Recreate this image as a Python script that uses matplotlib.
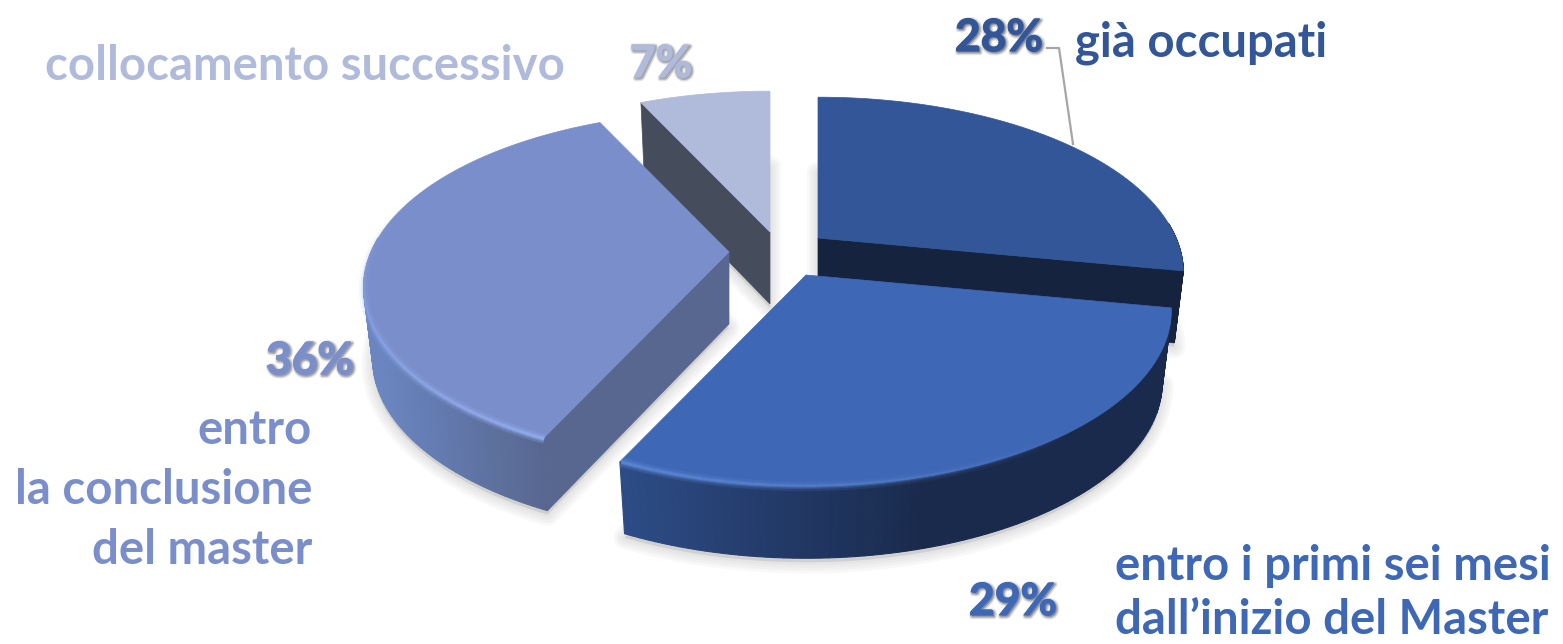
import numpy as np
import matplotlib
matplotlib.use("Agg")
import matplotlib.pyplot as plt
import matplotlib.patheffects as pe
from matplotlib.collections import LineCollection
from matplotlib.colors import to_rgb
from matplotlib.patches import Polygon

# data
categories = ["già occupati", "entro i primi sei mesi\ndall’inizio del Master",
              "entro\nla conclusione\ndel master", "collocamento successivo"]
values = [28, 29, 36, 7]

top_colors = ["#325698", "#3e67b5", "#7a8ecb", "#b0bbdc"]
side_colors = ["#15233f", "#15233f", "#57678f", "#454c5c"]
wall_left = ["#15233f", "#2d4c86", "#6a85c0", "#454c5c"]
wall_right = ["#15233f", "#192a4c", "#57678f", "#454c5c"]

# apex of every exploded slice, in pixels
centers = [(818, 238), (806, 275), (729, 252), (770, 232)]
A, B, K = 358, 169, 0.2   # radii and perspective of the top face
DEPTH = 72
SHRINK = 0.975

edges = 360 * np.cumsum([0] + values) / sum(values)


def rim(i, t, down=0.0):
    # point on the outer rim, t in degrees clockwise from the top
    r = np.radians(t)
    u, v = np.sin(r), -np.cos(r)
    w = 1 - K * v
    scale = SHRINK if down else 1
    return centers[i][0] + scale * A * u / w, centers[i][1] + B * v / w + down


def sector(i, down=0.0):
    ts = np.linspace(edges[i], edges[i + 1], 120)
    x, y = rim(i, ts, down)
    cx, cy = centers[i]
    return np.column_stack([np.r_[cx, x], np.r_[cy + down, y]])


fig = plt.figure(figsize=(15.63, 6.44), dpi=100)
ax = fig.add_axes([0, 0, 1, 1])
ax.set_xlim(0, 1563)
ax.set_ylim(644, 0)
ax.axis("off")

# soft shadow under the pie
for i in range(4):
    for lw in [16, 12, 8, 4]:
        ax.add_patch(Polygon(sector(i, DEPTH + 4), closed=True, fc="#808080", ec="#808080",
                             lw=lw, alpha=0.05, joinstyle="round", zorder=1))

# back to front
order = [3, 0, 2, 1]
for n, i in enumerate(order):
    z = 2 + n * 3
    cx, cy = centers[i]

    # cut face
    cut = edges[i] if i != 0 else edges[1]
    rx, ry = rim(i, cut)
    bx, by = rim(i, cut, DEPTH)
    if i != 1:
        ax.add_patch(Polygon([(cx, cy), (rx, ry), (bx, by), (cx, cy + DEPTH)], closed=True,
                             fc=side_colors[i], ec=side_colors[i], lw=0.5, zorder=z))

    # outer wall, as a shaded strip
    t0, t1 = max(edges[i], 85), min(edges[i + 1], 275)
    if t1 > t0:
        ts = np.linspace(t0, t1, 90)
        for a, b in zip(ts[:-1], ts[1:]):
            f = (rim(i, (a + b) / 2)[0] - rim(i, t1)[0]) / (rim(i, t0)[0] - rim(i, t1)[0])
            f = np.clip(f, 0, 1)
            if i == 1:
                f = min(f / 0.55, 1)
            col = (1 - f) * np.array(to_rgb(wall_left[i])) + f * np.array(to_rgb(wall_right[i]))
            ax.add_patch(Polygon([rim(i, a), rim(i, b), rim(i, b, DEPTH), rim(i, a, DEPTH)],
                                 closed=True, fc=col, ec=col, lw=0.8, zorder=z + 1))

    # top face
    ax.add_patch(Polygon(sector(i), closed=True, fc=top_colors[i], ec=top_colors[i],
                         lw=0.5, zorder=z + 2))

# bevel highlight along the front rim
for i, c, t_full, t_none in [(1, "#5f8ad8", 205, 140), (2, "#93aef0", 205, 285)]:
    ts = np.linspace(min(t_full, t_none), max(t_full, t_none), 80)
    x, y = rim(i, ts)
    pts = np.column_stack([x, y])
    segs = np.stack([pts[:-1], pts[1:]], axis=1)
    alpha = 1 - np.abs(ts[:-1] - t_full) / abs(t_none - t_full)
    for lw, strength in [(7, 0.25), (4, 0.4), (2, 0.7)]:
        rgba = [(*to_rgb(c), a * strength) for a in alpha]
        ax.add_collection(LineCollection(segs, colors=rgba, linewidths=lw, capstyle="butt", zorder=20))

# leader line of the first label
ax.plot([1047, 1059, 1073], [48, 48, 144], color="#a6a6a6", lw=1.6, zorder=21)

FONT = "Lato"
label_pos = [(1075, 56, "left"), (1115, 634, "left"), (312, 564, "right"), (45, 80, "left")]
line_gap = [60, 54, 60, 60]
pct_pos = [(999, 51), (1013, 615), (310, 374), (661, 77)]

for i, cat in enumerate(categories):
    lx, ly, ha = label_pos[i]
    lines = cat.split("\n")
    for k, line in enumerate(reversed(lines)):
        ax.text(lx, ly - k * line_gap[i], line, color=top_colors[i], fontsize=34, fontweight="bold",
                family=FONT, ha=ha, va="baseline", zorder=30)
    ax.text(pct_pos[i][0], pct_pos[i][1], f"{values[i]}%", color=top_colors[i], fontsize=32,
            fontweight="bold", family=FONT, ha="center", va="baseline", zorder=30,
            path_effects=[pe.Stroke(linewidth=4, foreground="#888888", alpha=0.25, offset=(1, -1)),
                          pe.Stroke(linewidth=2, foreground="#777777", alpha=0.45, offset=(1, -1)),
                          pe.Stroke(linewidth=0.8, foreground=top_colors[i]),
                          pe.Normal()])

fig.savefig("out.png", dpi=100, facecolor="white")
